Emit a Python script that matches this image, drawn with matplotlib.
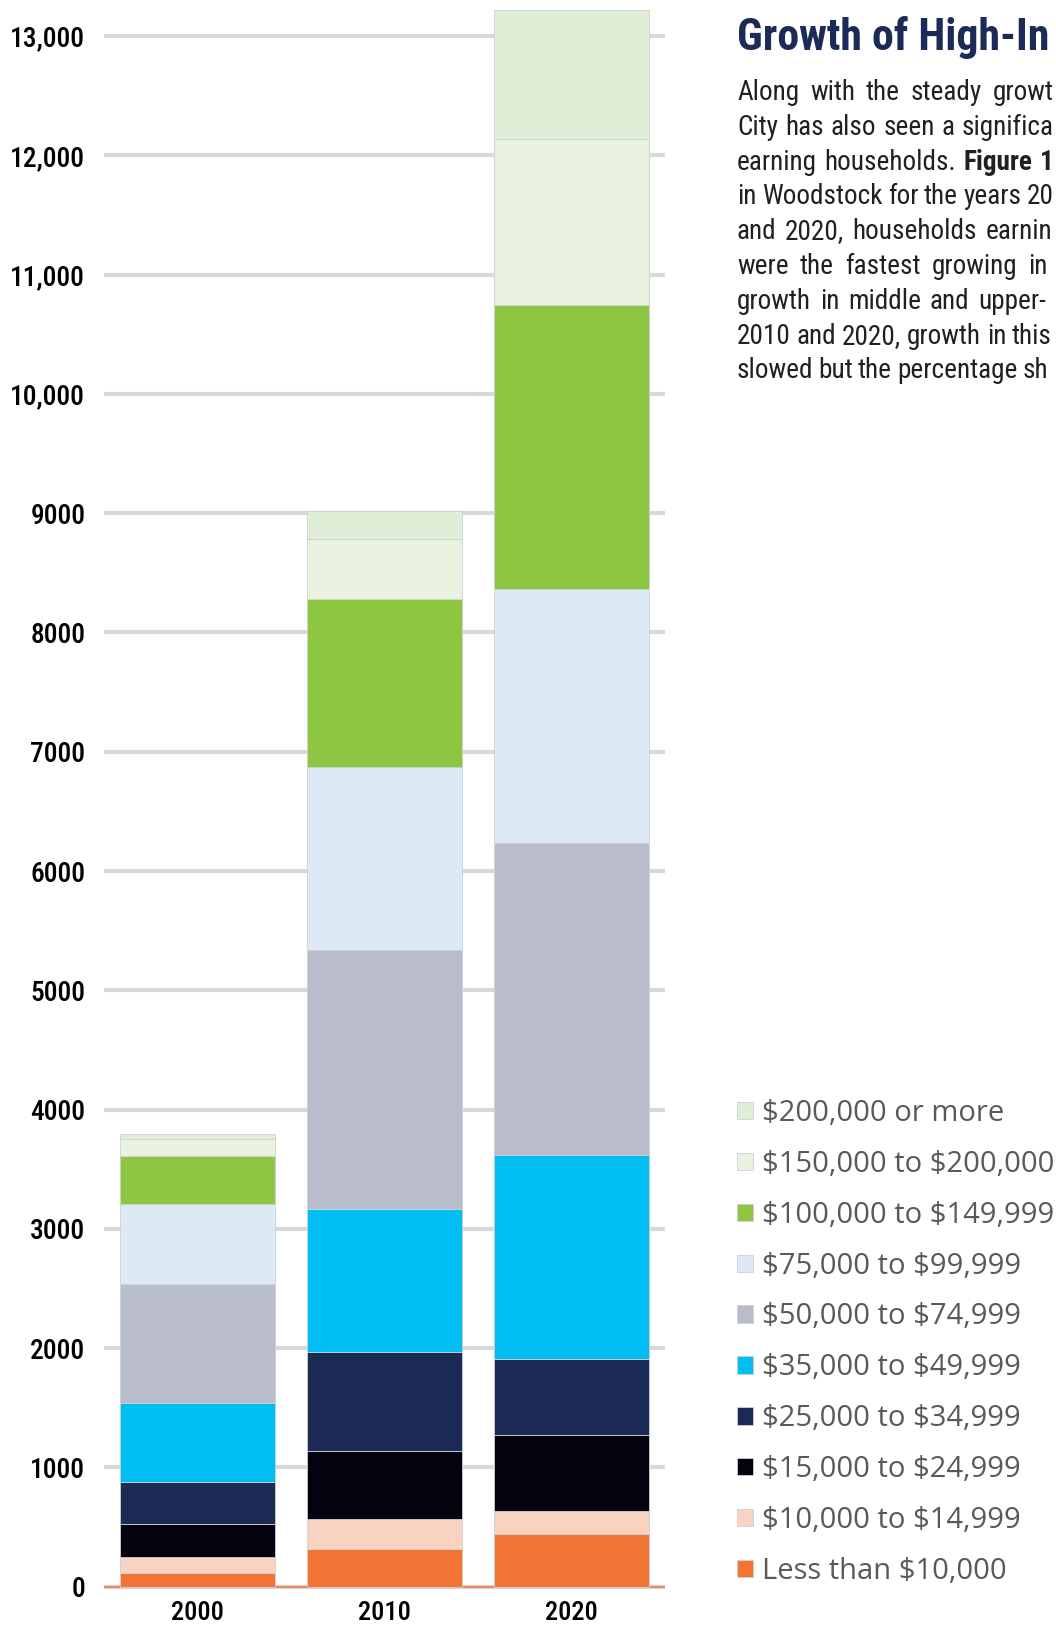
import matplotlib
matplotlib.use('Agg')
import matplotlib.pyplot as plt
from matplotlib import font_manager
from matplotlib.font_manager import FontProperties
import numpy as np

plt.rcParams['text.parse_math'] = False

# --- data ---
years = ['2000', '2010', '2020']
brackets = ['Less than $10,000', '$10,000 to $14,999', '$15,000 to $24,999',
            '$25,000 to $34,999', '$35,000 to $49,999', '$50,000 to $74,999',
            '$75,000 to $99,999', '$100,000 to $149,999', '$150,000 to $200,000',
            '$200,000 or more']
colors = ['#f27435', '#f8d3c1', '#04020f', '#1c2a56', '#00bdf2',
          '#b8bccb', '#dde9f5', '#8dc641', '#e9f2df', '#e0eed8']

hh_2000 = [112, 133, 283, 350, 664, 1000, 664, 408, 143, 40]
hh_2010 = [320, 250, 569, 825, 1203, 2169, 1534, 1412, 502, 231]
hh_2020 = [439, 198, 633, 636, 1711, 2618, 2130, 2381, 1387, 1083]

yticks = list(range(0, 14000, 1000))
ytick_labels = ['0', '1000', '2000', '3000', '4000', '5000', '6000', '7000',
                '8000', '9000', '10,000', '11,000', '12,000', '13,000']

# the page text runs off the right edge; only the visible part is kept
title = 'Growth of High-In'
body_lines = [
    'Along with the steady growt',
    'City has also seen a significa',
    'earning households. Figure 1',
    'in Woodstock for the years 20',
    'and 2020, households earnin',
    'were the fastest growing in',
    'growth in middle and upper-',
    '2010 and 2020, growth in this',
    'slowed but the percentage sh',
]
body_right = [1054, 1054, 1054, 1054, 1052, 1048, 1046, 1052, 1048]
bold_from = {2: 2}   # line 3: words from index 2 on are bold

# --- fonts ---
names = {f.name for f in font_manager.fontManager.ttflist}
narrow = None
for cand in ['Liberation Sans Narrow', 'Roboto Condensed', 'DejaVu Sans Condensed',
             'Open Sans Condensed', 'Noto Sans Condensed']:
    if cand in names:
        narrow = dict(family=cand)
        break
if narrow is None:
    cond = [f for f in font_manager.fontManager.ttflist
            if str(f.stretch) in ('condensed', 'semi-condensed', 'extra-condensed')]
    if cond:
        narrow = dict(family=cond[0].name, stretch=cond[0].stretch)
    else:
        narrow = dict(family='Roboto')

W, H = 1056, 1630
fig = plt.figure(figsize=(W / 100, H / 100), dpi=100)
fig.patch.set_facecolor('white')
renderer = fig.canvas.get_renderer()


def text_w(s, fp):
    t = fig.text(0, 0, s, fontproperties=fp)
    w = t.get_window_extent(renderer).width
    t.remove()
    return w


def fit(s, target, **kw):
    fp = FontProperties(size=20, **kw)
    return FontProperties(size=20 * target / text_w(s, fp), **kw)


ax = fig.add_axes([104 / W, (H - 1590.3) / H, 561 / W, 1590 / H])

data = np.array([hh_2000, hh_2010, hh_2020])
x = np.arange(len(years))
bottom = np.zeros(len(years))
handles = []
for i, name in enumerate(brackets):
    vals = data[:, i]
    b = ax.bar(x, vals, 0.83, bottom=bottom, color=colors[i],
               edgecolor='#cdd1d6', linewidth=0.6, label=name, zorder=3)
    handles.append(b)
    bottom += vals

ax.set_xlim(-0.5, 2.5)
ax.set_ylim(-30, 13300)
ax.set_yticks(yticks)
ax.set_yticklabels(ytick_labels)
ax.set_xticks(x)
ax.set_xticklabels(years)

ax.set_axisbelow(True)
ax.yaxis.grid(True, color='#d9d9d9', linewidth=3)
ax.axhline(0, color='#ee8a5c', linewidth=1.5, zorder=2)
for s in ax.spines.values():
    s.set_visible(False)
ax.tick_params(axis='y', length=0, pad=13.5)
ax.tick_params(axis='x', length=0, pad=8)

ytick_fp = fit('13,000', 75, weight=500, **narrow)
xtick_fp = fit('2000', 53, weight=500, **narrow)
for lab in ax.get_yticklabels():
    lab.set_fontproperties(ytick_fp)
    lab.set_color('#000000')
for lab in ax.get_xticklabels():
    lab.set_fontproperties(xtick_fp)
    lab.set_color('#000000')

# legend, top entry first
leg = fig.legend(handles[::-1], brackets[::-1], loc='upper left',
                 bbox_to_anchor=(737 / W, 1 - 1099 / H), frameon=False,
                 prop=FontProperties(family='Open Sans', size=21),
                 handlelength=0.54, handleheight=0.54, handletextpad=0.3,
                 labelspacing=0.75, borderpad=0, borderaxespad=0)
for t in leg.get_texts():
    t.set_color('#58595b')

# title and justified body copy on the right
title_fp = fit(title, 312, weight='bold', **narrow)
fig.text(737 / W, 1 - 50 / H, title, va='baseline', color='#1b2a56',
         fontproperties=title_fp)

body_fp = fit(body_lines[1], 312, **narrow)
body_bold = body_fp.copy()
body_bold.set_weight('bold')
space = text_w('a a', body_fp) - text_w('aa', body_fp)
for i, line in enumerate(body_lines):
    words = line.split(' ')
    fps = [body_bold if (i in bold_from and k >= bold_from[i]) else body_fp
           for k in range(len(words))]
    widths = [text_w(w_, f_) for w_, f_ in zip(words, fps)]
    gap = (body_right[i] - 737 - sum(widths)) / (len(words) - 1)
    gap = max(gap, 0.6 * space)
    xpos = 737
    ybase = 1 - (100 + 34.8 * i) / H
    for w_, f_, wd in zip(words, fps, widths):
        fig.text(xpos / W, ybase, w_, va='baseline', color='#231f20',
                 fontproperties=f_)
        xpos += wd + gap

fig.savefig('out.png', dpi=100)
